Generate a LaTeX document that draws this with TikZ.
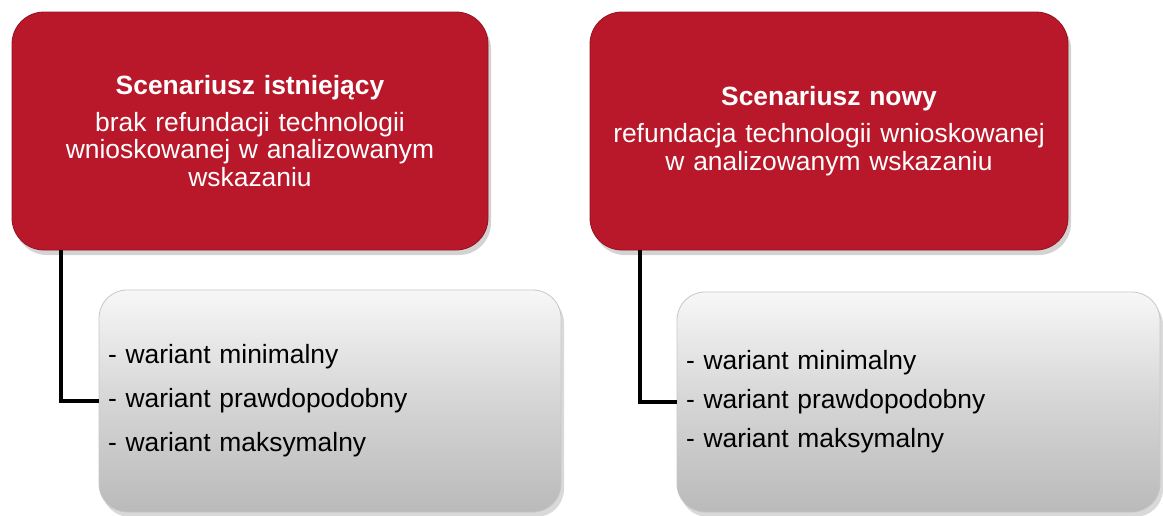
\documentclass[tikz,border=0pt]{standalone}
\usepackage{fontspec}
\setmainfont{Liberation Sans}
\usetikzlibrary{shadows}
\definecolor{scenred}{RGB}{184,24,41}
\definecolor{listtop}{RGB}{247,247,247}
\definecolor{listbot}{RGB}{186,186,186}
\tikzset{
  scenbox/.style={rectangle, rounded corners=32pt, fill=scenred,
    draw=scenred!80!black, line width=0.8pt, text=white, align=center,
    minimum height=238pt, inner sep=0pt,
    font=\fontsize{26.4}{27.5}\selectfont,
    drop shadow={opacity=0.35, shadow xshift=3pt, shadow yshift=-5pt}},
  listbox/.style={rectangle, rounded corners=28pt, top color=listtop,
    bottom color=listbot, middle color=listbot!55!listtop,
    draw=black!22, line width=0.8pt, align=left, inner sep=0pt,
    font=\fontsize{26.4}{27.5}\selectfont,
    drop shadow={opacity=0.3, shadow xshift=3pt, shadow yshift=-5pt}},
  link/.style={line width=4pt, draw=black}
}
\begin{document}
\begin{tikzpicture}[x=1pt, y=-1pt]
  \useasboundingbox (0,0) rectangle (1163,515);

  % scenariusze
  \node[scenbox, minimum width=476pt, text width=450pt] (old) at (250,131)
    {\textbf{Scenariusz istniejący}\\[9pt]
     brak refundacji technologii\\wnioskowanej w analizowanym\\wskazaniu};
  \node[scenbox, minimum width=478pt, text width=450pt] (new) at (829,131)
    {\textbf{Scenariusz nowy}\\[10pt]
     refundacja technologii wnioskowanej\\w analizowanym wskazaniu};

  % warianty
  \node[listbox, minimum width=462pt, minimum height=222pt, text width=444pt,
    font=\fontsize{26.4}{44}\selectfont] (oldlist) at (330,401)
    {- wariant minimalny\\- wariant prawdopodobny\\- wariant maksymalny};
  \node[listbox, minimum width=483pt, minimum height=220pt, text width=465pt,
    font=\fontsize{26.4}{39}\selectfont] (newlist) at (918.5,402)
    {- wariant minimalny\\- wariant prawdopodobny\\- wariant maksymalny};

  % polaczenia
  \coordinate (oldfoot) at (61,250);
  \coordinate (newfoot) at (640,250);
  \draw[link] (oldfoot) |- (oldlist.west);
  \draw[link] (newfoot) |- (newlist.west);
\end{tikzpicture}
\end{document}
